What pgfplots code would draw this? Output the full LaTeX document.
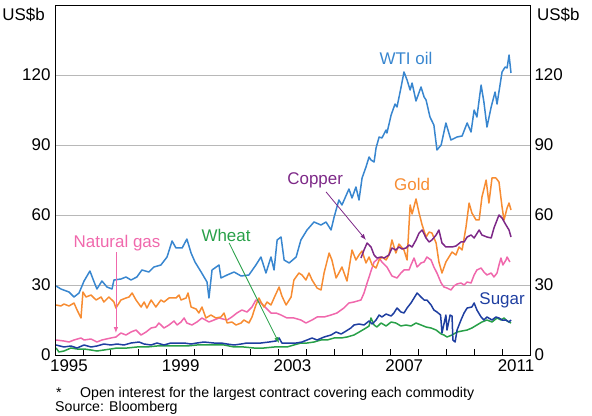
\documentclass[border=0pt]{standalone}
\usepackage{fontspec}
\setmainfont{Liberation Sans}
\usepackage{pgfplots}
\pgfplotsset{compat=1.18}
\usetikzlibrary{arrows.meta}
\definecolor{oil}{RGB}{56,134,207}
\definecolor{gold}{RGB}{247,140,50}
\definecolor{copper}{RGB}{125,40,135}
\definecolor{natgas}{RGB}{240,104,172}
\definecolor{sugar}{RGB}{30,62,160}
\definecolor{wheat}{RGB}{40,160,72}
\begin{document}
\begin{tikzpicture}[font=\fontsize{17}{20}\selectfont]
\path[use as bounding box] (-55bp,-61bp) rectangle (537bp,355bp);
\begin{axis}[at={(0,0)}, anchor=south west, scale only axis,
  width=475bp, height=350bp,
  xmin=1995, xmax=2012, ymin=0, ymax=150,
  xtick={1995.5,1999.5,2003.5,2007.5,2011.5},
  xticklabels={1995,1999,2003,2007,2011},
  minor xtick={1995,1996,...,2012},
  ytick={0,30,60,90,120},
  ymajorgrids, grid style={black!28, line width=0.9bp},
  tick align=inside, xtick pos=bottom, ytick pos=left,
  major tick length=0pt, minor tick length=6bp,
  minor tick style={black, line width=0.8bp},
  axis line style={line width=0.9bp},
  /pgf/number format/assume math mode=true,
  tick label style={font=\fontsize{17}{20}\selectfont},
  yticklabel style={xshift=-1bp},
  xticklabel style={yshift=-1bp},
  every axis plot/.append style={line width=1.5bp, line join=round},
  clip=false]
\addplot[wheat] coordinates {(1995.04,3.00)(1995.14,1.29)(1995.32,1.71)(1995.57,3.00)(1995.79,2.57)(1996.04,2.57)(1996.29,2.14)(1996.50,1.71)(1996.75,2.14)(1997.00,2.57)(1997.22,3.00)(1997.58,3.00)(1997.93,3.43)(1998.29,3.43)(1998.65,3.86)(1999.01,3.86)(1999.37,3.86)(1999.72,3.86)(2000.08,4.29)(2000.33,4.29)(2000.69,4.29)(2001.05,4.29)(2001.41,3.43)(2001.76,3.43)(2002.12,3.00)(2002.48,3.00)(2002.84,3.43)(2003.09,3.43)(2003.30,3.43)(2003.55,4.29)(2003.80,5.14)(2004.02,5.14)(2004.27,5.57)(2004.52,6.43)(2004.74,6.43)(2004.99,7.29)(2005.24,7.29)(2005.45,7.71)(2005.70,8.57)(2005.95,10.29)(2006.13,11.57)(2006.24,12.43)(2006.31,15.86)(2006.42,12.86)(2006.52,12.00)(2006.67,13.71)(2006.85,12.43)(2007.03,14.14)(2007.20,13.71)(2007.38,12.43)(2007.56,12.86)(2007.74,12.43)(2007.92,13.71)(2008.10,12.86)(2008.28,12.00)(2008.46,11.57)(2008.64,10.71)(2008.82,9.00)(2008.92,8.57)(2009.03,7.71)(2009.21,8.57)(2009.39,9.86)(2009.57,10.29)(2009.75,10.71)(2009.92,11.57)(2010.10,12.86)(2010.28,14.14)(2010.46,15.00)(2010.64,14.14)(2010.82,15.86)(2010.96,15.00)(2011.07,15.86)(2011.18,14.57)(2011.32,13.71)};
\addplot[sugar] coordinates {(1995.04,4.29)(1995.32,3.43)(1995.57,3.86)(1995.79,3.00)(1996.04,4.29)(1996.29,3.43)(1996.50,3.86)(1996.75,4.71)(1997.00,4.29)(1997.22,4.71)(1997.47,4.29)(1997.72,5.14)(1998.01,5.57)(1998.19,4.71)(1998.44,4.29)(1998.65,5.14)(1998.90,4.29)(1999.15,5.14)(1999.37,5.14)(1999.62,5.14)(1999.87,4.71)(2000.08,5.14)(2000.33,5.57)(2000.69,5.14)(2000.94,5.14)(2001.16,4.71)(2001.41,4.29)(2001.66,4.71)(2001.87,5.14)(2002.12,5.14)(2002.37,5.14)(2002.66,5.57)(2002.91,6.00)(2003.02,7.29)(2003.12,5.14)(2003.38,5.14)(2003.63,5.14)(2003.84,5.57)(2004.02,6.43)(2004.20,7.29)(2004.38,6.43)(2004.63,7.71)(2004.88,8.57)(2005.06,9.86)(2005.24,9.00)(2005.42,10.29)(2005.59,11.57)(2005.70,12.86)(2005.88,13.29)(2006.06,12.86)(2006.24,14.57)(2006.35,13.29)(2006.49,15.00)(2006.60,17.14)(2006.70,16.29)(2006.85,17.57)(2007.03,16.71)(2007.13,18.00)(2007.24,20.14)(2007.38,18.43)(2007.49,18.00)(2007.60,20.14)(2007.74,22.29)(2007.85,24.43)(2007.96,26.57)(2008.10,24.86)(2008.21,23.57)(2008.31,23.57)(2008.46,21.43)(2008.56,19.29)(2008.67,18.43)(2008.80,17.14)(2008.85,9.43)(2008.99,17.14)(2009.03,10.71)(2009.14,17.14)(2009.21,16.71)(2009.24,6.43)(2009.32,5.57)(2009.39,10.71)(2009.53,15.00)(2009.64,18.00)(2009.75,20.14)(2009.92,20.57)(2010.00,22.29)(2010.10,19.29)(2010.25,16.29)(2010.35,15.00)(2010.46,16.29)(2010.64,15.00)(2010.78,16.29)(2010.89,15.86)(2011.00,15.00)(2011.14,15.00)(2011.25,14.14)(2011.32,15.00)};
\addplot[natgas] coordinates {(1995.04,6.43)(1995.32,6.00)(1995.50,5.57)(1995.68,6.43)(1995.93,7.29)(1996.04,6.43)(1996.29,6.86)(1996.50,5.57)(1996.68,6.43)(1997.00,7.29)(1997.18,7.71)(1997.36,9.43)(1997.54,8.57)(1997.72,9.86)(1997.90,10.71)(1998.08,8.57)(1998.26,9.86)(1998.44,11.57)(1998.61,12.00)(1998.72,13.71)(1998.90,11.57)(1999.08,12.86)(1999.26,14.57)(1999.37,12.86)(1999.51,14.14)(1999.62,15.86)(1999.72,13.71)(1999.90,12.86)(2000.08,14.14)(2000.26,15.86)(2000.51,14.14)(2000.69,15.00)(2000.87,15.86)(2001.16,15.00)(2001.33,16.29)(2001.51,18.00)(2001.69,19.29)(2001.87,18.43)(2002.05,20.57)(2002.19,23.57)(2002.37,22.29)(2002.55,20.14)(2002.73,18.00)(2002.91,18.00)(2003.09,17.14)(2003.30,15.86)(2003.55,15.86)(2003.80,15.00)(2003.98,13.71)(2004.20,15.00)(2004.38,16.29)(2004.63,16.29)(2004.88,17.14)(2005.09,18.00)(2005.34,20.14)(2005.52,22.29)(2005.70,22.71)(2005.95,23.57)(2006.06,26.57)(2006.17,30.86)(2006.31,36.00)(2006.42,39.86)(2006.60,41.57)(2006.70,39.86)(2006.88,37.71)(2007.06,33.86)(2007.24,33.00)(2007.38,35.14)(2007.49,36.43)(2007.67,36.43)(2007.74,38.57)(2007.85,41.57)(2007.96,37.71)(2008.10,39.43)(2008.21,39.86)(2008.31,42.00)(2008.46,40.71)(2008.56,37.71)(2008.67,35.14)(2008.82,30.86)(2008.92,29.14)(2009.03,28.71)(2009.17,27.86)(2009.28,29.57)(2009.39,30.43)(2009.53,30.86)(2009.64,30.00)(2009.75,31.29)(2009.89,30.86)(2010.00,34.29)(2010.10,36.43)(2010.25,37.29)(2010.35,35.57)(2010.46,34.29)(2010.61,35.14)(2010.71,33.43)(2010.82,35.14)(2010.89,38.57)(2010.96,41.57)(2011.03,38.57)(2011.14,40.71)(2011.18,42.00)(2011.28,39.86)};
\addplot[gold] coordinates {(1995.04,21.43)(1995.21,21.00)(1995.32,21.86)(1995.50,21.00)(1995.68,22.29)(1995.79,19.29)(1995.93,15.86)(1996.00,27.00)(1996.11,24.86)(1996.29,25.71)(1996.47,23.57)(1996.65,24.86)(1996.75,22.71)(1996.93,24.86)(1997.11,22.71)(1997.18,20.14)(1997.36,23.57)(1997.54,24.43)(1997.65,24.86)(1997.76,26.57)(1997.90,23.57)(1998.08,20.57)(1998.19,22.71)(1998.29,20.14)(1998.44,23.57)(1998.61,20.57)(1998.79,23.57)(1998.90,22.71)(1999.08,24.43)(1999.33,24.43)(1999.44,25.71)(1999.51,23.57)(1999.69,24.43)(1999.76,26.57)(1999.87,20.57)(2000.05,19.71)(2000.15,18.00)(2000.26,20.57)(2000.40,15.86)(2000.58,17.14)(2000.76,15.86)(2000.94,16.29)(2001.05,18.00)(2001.16,13.71)(2001.33,14.14)(2001.48,12.86)(2001.66,13.71)(2001.76,15.00)(2001.94,13.71)(2002.05,16.29)(2002.19,21.43)(2002.30,24.43)(2002.37,22.71)(2002.48,20.57)(2002.59,22.71)(2002.73,21.43)(2002.84,24.43)(2003.02,29.14)(2003.12,25.29)(2003.27,21.43)(2003.45,24.86)(2003.55,32.14)(2003.73,35.14)(2003.84,34.29)(2003.98,32.14)(2004.09,35.14)(2004.20,32.14)(2004.38,28.71)(2004.52,27.86)(2004.63,35.14)(2004.81,43.71)(2004.91,40.71)(2005.06,33.00)(2005.16,35.14)(2005.27,37.71)(2005.45,31.71)(2005.63,45.00)(2005.77,40.71)(2005.88,42.86)(2005.99,44.57)(2006.13,39.43)(2006.24,42.00)(2006.35,38.57)(2006.49,37.29)(2006.60,40.71)(2006.70,42.00)(2006.85,40.71)(2006.95,42.86)(2007.06,49.29)(2007.20,43.71)(2007.31,47.57)(2007.49,45.00)(2007.60,40.71)(2007.71,64.29)(2007.78,60.43)(2007.92,66.86)(2008.03,60.86)(2008.14,55.71)(2008.28,50.57)(2008.39,52.71)(2008.49,52.29)(2008.64,48.00)(2008.74,39.86)(2008.85,35.14)(2008.99,39.86)(2009.10,42.00)(2009.21,44.14)(2009.35,42.86)(2009.46,46.29)(2009.57,45.00)(2009.71,54.86)(2009.82,65.14)(2009.92,60.86)(2010.07,57.86)(2010.18,57.86)(2010.28,67.71)(2010.43,75.00)(2010.53,65.14)(2010.64,75.86)(2010.78,75.86)(2010.89,74.14)(2011.00,63.43)(2011.07,57.86)(2011.18,63.00)(2011.25,65.14)(2011.32,62.14)};
\addplot[copper] coordinates {(2005.95,41.57)(2006.06,45.00)(2006.17,48.00)(2006.31,46.29)(2006.42,42.86)(2006.52,41.57)(2006.67,42.00)(2006.78,41.57)(2006.95,42.86)(2007.06,45.86)(2007.20,45.00)(2007.31,46.29)(2007.42,45.43)(2007.56,45.86)(2007.67,47.14)(2007.78,46.29)(2007.92,49.29)(2008.03,52.29)(2008.14,53.57)(2008.28,50.14)(2008.39,48.43)(2008.49,49.29)(2008.64,51.43)(2008.74,53.57)(2008.85,48.00)(2008.99,46.29)(2009.10,46.29)(2009.21,46.29)(2009.35,46.71)(2009.53,48.43)(2009.64,48.43)(2009.75,50.57)(2009.89,51.43)(2010.00,50.14)(2010.18,53.57)(2010.28,51.43)(2010.46,50.57)(2010.61,50.14)(2010.71,54.43)(2010.89,60.00)(2011.00,58.71)(2011.14,55.71)(2011.25,53.57)(2011.32,50.57)};
\addplot[oil] coordinates {(1995.04,29.57)(1995.21,28.29)(1995.50,27.00)(1995.68,24.86)(1995.86,26.57)(1996.04,31.71)(1996.25,36.00)(1996.40,31.29)(1996.50,28.29)(1996.68,31.71)(1996.86,29.14)(1997.04,28.29)(1997.11,32.14)(1997.36,32.57)(1997.54,33.43)(1997.72,32.14)(1997.93,33.43)(1998.11,36.43)(1998.36,35.57)(1998.54,37.71)(1998.79,38.57)(1999.01,42.00)(1999.19,48.86)(1999.33,45.86)(1999.55,45.86)(1999.72,49.71)(1999.87,43.71)(2000.01,39.86)(2000.23,35.57)(2000.44,31.29)(2000.51,24.43)(2000.62,36.43)(2000.87,38.57)(2000.94,33.00)(2001.16,34.29)(2001.41,35.57)(2001.66,33.86)(2001.94,34.29)(2002.19,38.57)(2002.37,42.00)(2002.55,35.14)(2002.73,42.00)(2002.84,36.43)(2002.95,49.29)(2003.09,50.57)(2003.20,40.71)(2003.38,39.43)(2003.63,42.00)(2003.80,49.29)(2004.02,53.57)(2004.27,57.00)(2004.52,55.71)(2004.70,57.00)(2004.88,53.57)(2004.99,59.14)(2005.16,66.43)(2005.27,64.29)(2005.52,71.14)(2005.63,67.29)(2005.77,72.00)(2005.88,66.43)(2005.99,75.86)(2006.13,80.57)(2006.24,84.86)(2006.31,83.57)(2006.42,82.71)(2006.49,88.71)(2006.60,93.43)(2006.70,93.00)(2006.85,96.43)(2006.88,95.14)(2007.03,102.86)(2007.17,107.57)(2007.24,106.29)(2007.38,114.43)(2007.49,121.29)(2007.60,117.86)(2007.71,113.57)(2007.78,116.57)(2007.92,108.86)(2008.10,114.86)(2008.21,110.57)(2008.28,109.29)(2008.42,102.00)(2008.56,98.57)(2008.67,87.86)(2008.82,90.00)(2008.99,99.43)(2009.17,92.14)(2009.39,93.43)(2009.57,93.86)(2009.75,99.43)(2009.89,95.57)(2010.00,105.00)(2010.10,102.00)(2010.25,115.71)(2010.35,108.43)(2010.46,97.71)(2010.61,106.29)(2010.75,112.71)(2010.82,107.57)(2011.00,121.29)(2011.11,123.43)(2011.18,123.00)(2011.25,128.57)(2011.32,120.86)};
\node[text=oil] at (axis cs:2007.56,127.3) {WTI oil};
\node[text=copper] at (axis cs:2004.31,75.0) {Copper};
\node[text=gold] at (axis cs:2007.78,72.9) {Gold};
\node[text=sugar] at (axis cs:2011.0,23.6) {Sugar};
\node[text=natgas] at (axis cs:1997.22,48.0) {Natural gas};
\node[text=wheat] at (axis cs:2001.12,51.4) {Wheat};
\draw[copper, line width=0.8bp, -{Latex[length=6bp,width=4.5bp]}] (axis cs:2004.70,69.9) -- (axis cs:2006.13,49.3);
\draw[natgas, line width=0.8bp, -{Latex[length=6bp,width=4.5bp]}] (axis cs:1997.18,44.1) -- (axis cs:1997.18,9.4);
\draw[wheat, line width=0.8bp, -{Latex[length=6bp,width=4.5bp]}] (axis cs:2001.23,48.0) -- (axis cs:2003.02,5.1);
\end{axis}
\begin{axis}[at={(0,0)}, anchor=south west, scale only axis,
  width=475bp, height=350bp,
  xmin=1995, xmax=2012, ymin=0, ymax=150,
  xtick=\empty, ytick={0,30,60,90,120},
  ytick pos=right, yticklabel pos=right,
  major tick length=0pt,
  axis line style={line width=0.9bp},
  /pgf/number format/assume math mode=true,
  tick label style={font=\fontsize{17}{20}\selectfont},
  yticklabel style={xshift=1bp}]
\end{axis}
\node[anchor=base east, inner sep=0pt] at (-10bp,334bp) {US\$b};
\node[anchor=base west, inner sep=0pt] at (482bp,334bp) {US\$b};
\begin{scope}[font=\fontsize{14.2}{16}\selectfont]
\node[anchor=base west, inner sep=0pt] at (1bp,-42bp) {*};
\node[anchor=base west, inner sep=0pt] at (25bp,-42bp) {Open interest for the largest contract covering each commodity};
\node[anchor=base west, inner sep=0pt] at (0bp,-56bp) {Source: Bloomberg};
\end{scope}
\end{tikzpicture}
\end{document}
